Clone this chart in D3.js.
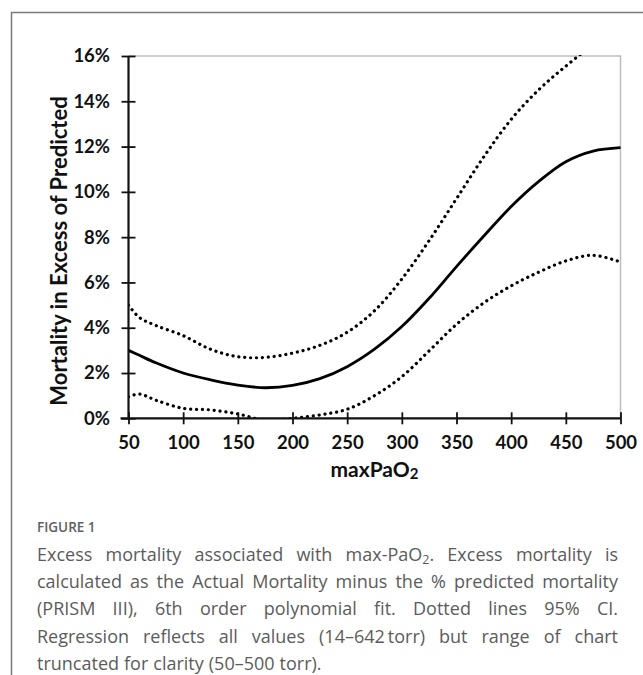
<!DOCTYPE html>
<html>
<head>
<meta charset="utf-8">
<script src="https://cdn.jsdelivr.net/npm/d3@7"></script>
<style>
  body { margin: 0; background: #fff; }
  svg { display: block; }
</style>
</head>
<body>
<div id="chart"></div>
<script>
const pao2 = [50, 60, 75, 100, 125, 150, 175, 200, 225, 250, 275, 300, 325, 350, 375, 400, 425, 450, 475, 500];
// 6th order polynomial fit, % excess mortality
const fit = [3.0, 2.78, 2.45, 2.0, 1.7, 1.47, 1.35, 1.45, 1.75, 2.28, 3.05, 4.05, 5.3, 6.7, 8.05, 9.35, 10.45, 11.33, 11.8, 11.95];
// 95% CI upper / lower
const upper = [5.0, 4.45, 4.1, 3.65, 3.05, 2.72, 2.69, 2.88, 3.22, 3.8, 4.75, 6.15, 7.85, 9.7, 11.55, 13.2, 14.5, 15.55, 16.5, 17.3];
const lower = [0.95, 1.07, 0.8, 0.44, 0.37, 0.19, -0.08, 0.0, 0.15, 0.4, 1.0, 1.84, 2.98, 4.15, 5.1, 5.85, 6.45, 6.95, 7.2, 6.9];

const xTicks = [50, 100, 150, 200, 250, 300, 350, 400, 450, 500];
const yTicks = [0, 2, 4, 6, 8, 10, 12, 14, 16];

const captionTitle = "FIGURE 1";
const captionLines = [
  "Excess mortality associated with max-PaO2. Excess mortality is",
  "calculated as the Actual Mortality minus the % predicted mortality",
  "(PRISM III), 6th order polynomial fit. Dotted lines 95% CI.",
  "Regression reflects all values (14\u2013642\u2009torr) but range of chart",
  "truncated for clarity (50\u2013500 torr)."
];

const width = 643;
const height = 675;
const margin = { top: 56, right: 22.5, bottom: 256.7, left: 128.5 };
const axisFont = "Lato, 'Open Sans', sans-serif";

const svg = d3.select("#chart")
  .append("svg")
  .attr("width", width)
  .attr("height", height);

// outer figure frame (top + left rules)
svg.append("path")
  .attr("d", "M11.5,675 L11.5,12.5 L643,12.5")
  .attr("fill", "none")
  .attr("stroke", "#7a7a7a")
  .attr("stroke-width", 1.5);

const xScale = d3.scaleLinear()
  .domain([50, 500])
  .range([margin.left, width - margin.right]);

const yScale = d3.scaleLinear()
  .domain([0, 16])
  .range([height - margin.bottom, margin.top]);

// light plot-area border on top and right
svg.append("path")
  .attr("d", `M${xScale(50)},${yScale(16)} L${xScale(500)},${yScale(16)} L${xScale(500)},${yScale(0)}`)
  .attr("fill", "none")
  .attr("stroke", "#bdbdbd")
  .attr("stroke-width", 1.5);

svg.append("clipPath")
  .attr("id", "plot-clip")
  .append("rect")
  .attr("x", xScale(50))
  .attr("y", yScale(16) - 1)
  .attr("width", xScale(500) - xScale(50) + 2)
  .attr("height", yScale(0) - yScale(16) + 1);

const lineGenerator = (vals) => d3.line()
  .x((d, i) => xScale(pao2[i]))
  .y(d => yScale(d))
  .curve(d3.curveCatmullRom.alpha(0.5))(vals);

const plot = svg.append("g").attr("clip-path", "url(#plot-clip)");

[upper, lower].forEach(vals => {
  plot.append("path")
    .attr("d", lineGenerator(vals))
    .attr("fill", "none")
    .attr("stroke", "#000")
    .attr("stroke-width", 3.2)
    .attr("stroke-linecap", "round")
    .attr("stroke-dasharray", "0.1 5.8");
});

plot.append("path")
  .attr("d", lineGenerator(fit))
  .attr("fill", "none")
  .attr("stroke", "#000")
  .attr("stroke-width", 2.8);

// axes, ticks crossing the axis line
const yAxis = d3.axisLeft(yScale)
  .tickValues(yTicks)
  .tickFormat(d => d + "%")
  .tickSize(6)
  .tickPadding(12.5);

const yAxisGroup = svg.append("g")
  .attr("class", "y-axis")
  .attr("transform", `translate(${xScale(50)},0)`)
  .call(yAxis);

yAxisGroup.select(".domain").remove();
yAxisGroup.selectAll(".tick line")
  .attr("x1", -7).attr("x2", 7)
  .attr("stroke", "#111").attr("stroke-width", 1.8);
yAxisGroup.append("line")
  .attr("y1", yScale(16)).attr("y2", yScale(0))
  .attr("stroke", "#111").attr("stroke-width", 2.2);

const xAxis = d3.axisBottom(xScale)
  .tickValues(xTicks)
  .tickSize(6)
  .tickPadding(12);

const xAxisGroup = svg.append("g")
  .attr("class", "x-axis")
  .attr("transform", `translate(0,${yScale(0)})`)
  .call(xAxis);

xAxisGroup.select(".domain").remove();
xAxisGroup.selectAll(".tick line")
  .attr("y1", -6).attr("y2", 6)
  .attr("stroke", "#111").attr("stroke-width", 1.8);
xAxisGroup.append("line")
  .attr("x1", xScale(50) - 8).attr("x2", xScale(500))
  .attr("stroke", "#111").attr("stroke-width", 2.2);

svg.selectAll(".tick text")
  .attr("font-family", axisFont)
  .attr("font-weight", 700)
  .attr("font-size", 18.5)
  .attr("fill", "#111");

// axis titles
const xTitle = svg.append("text")
  .attr("x", (xScale(50) + xScale(500)) / 2)
  .attr("y", 477)
  .attr("text-anchor", "middle")
  .attr("font-family", axisFont)
  .attr("font-weight", 700)
  .attr("font-size", 21)
  .attr("fill", "#111");
xTitle.append("tspan").text("maxPaO");
xTitle.append("tspan").attr("font-size", 15).attr("dy", 2).text("2");

svg.append("text")
  .attr("transform", "translate(67,251) rotate(-90)")
  .attr("text-anchor", "middle")
  .attr("font-family", axisFont)
  .attr("font-weight", 700)
  .attr("font-size", 22)
  .attr("fill", "#111")
  .text("Mortality in Excess of Predicted");

// caption
const capFont = "'Open Sans', sans-serif";
svg.append("text")
  .attr("x", 37)
  .attr("y", 532)
  .attr("font-family", capFont)
  .attr("font-size", 13.5)
  .attr("font-weight", 600)
  .attr("fill", "#606060")
  .text(captionTitle);

const capLeft = 37, capRight = 618;
captionLines.forEach((line, li) => {
  const yPos = 561 + li * 27.2;
  const words = line.split(" ");
  const g = svg.append("g");
  const nodes = words.map(w => {
    const t = g.append("text")
      .attr("y", yPos)
      .attr("font-family", capFont)
      .attr("font-size", 18)
      .attr("fill", "#5b5b5b");
    if (w.includes("PaO2")) {
      const parts = w.split("PaO2");
      t.append("tspan").text(parts[0] + "PaO");
      t.append("tspan").attr("font-size", 12.5).attr("dy", 3).text("2");
      t.append("tspan").attr("dy", -3).text(parts[1]);
    } else {
      t.text(w);
    }
    return t;
  });
  const widths = nodes.map(t => t.node().getComputedTextLength());
  const total = d3.sum(widths);
  const last = li === captionLines.length - 1;
  const gap = last ? 5 : (capRight - capLeft - total) / (words.length - 1);
  let xPos = capLeft;
  nodes.forEach((t, i) => {
    t.attr("x", xPos);
    t.selectAll("tspan").filter((d, j) => j === 0).attr("x", xPos);
    xPos += widths[i] + gap;
  });
});
</script>
</body>
</html>
